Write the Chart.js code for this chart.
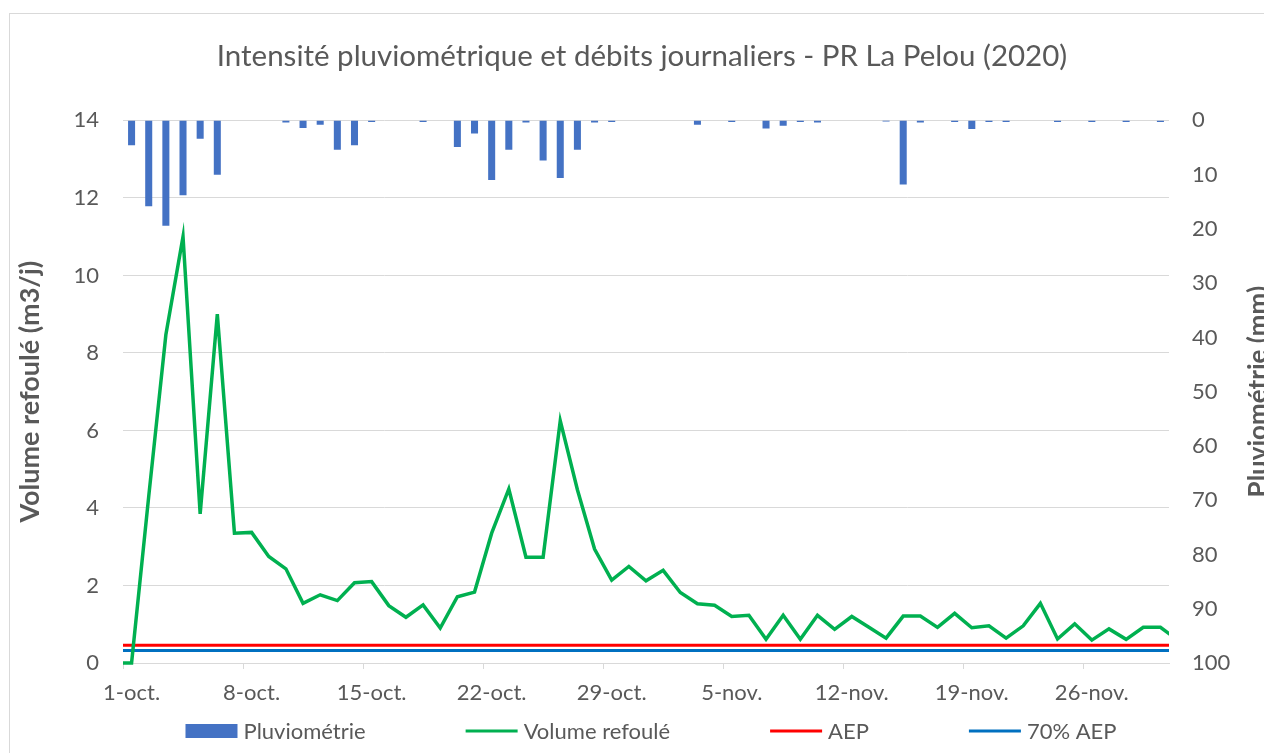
<!DOCTYPE html>
<html>
<head>
<meta charset="utf-8">
<script src="https://cdn.jsdelivr.net/npm/chart.js@4.4.1/dist/chart.umd.min.js"></script>
<style>
  html, body { margin: 0; padding: 0; background: #fff; }
  #wrap { width: 1264px; height: 753px; position: relative; }
</style>
</head>
<body>
<div id="wrap"><canvas id="pelouChart"></canvas></div>
<script>
// Data (30-sep and 1-dec sit just outside the visible axis, as in the original sheet)
const dates = ['30-sep.',
  '1-oct.', '2-oct.', '3-oct.', '4-oct.', '5-oct.', '6-oct.', '7-oct.', '8-oct.', '9-oct.', '10-oct.',
  '11-oct.', '12-oct.', '13-oct.', '14-oct.', '15-oct.', '16-oct.', '17-oct.', '18-oct.', '19-oct.', '20-oct.',
  '21-oct.', '22-oct.', '23-oct.', '24-oct.', '25-oct.', '26-oct.', '27-oct.', '28-oct.', '29-oct.', '30-oct.', '31-oct.',
  '1-nov.', '2-nov.', '3-nov.', '4-nov.', '5-nov.', '6-nov.', '7-nov.', '8-nov.', '9-nov.', '10-nov.',
  '11-nov.', '12-nov.', '13-nov.', '14-nov.', '15-nov.', '16-nov.', '17-nov.', '18-nov.', '19-nov.', '20-nov.',
  '21-nov.', '22-nov.', '23-nov.', '24-nov.', '25-nov.', '26-nov.', '27-nov.', '28-nov.', '29-nov.', '30-nov.',
  '1-dec.'];

const firstDay = '1-oct.';
const lastDay = '30-nov.';
const xTickLabels = ['1-oct.', '8-oct.', '15-oct.', '22-oct.', '29-oct.', '5-nov.', '12-nov.', '19-nov.', '26-nov.'];

// pluviometrie (mm)
const pluie = [null,
  4.6, 15.8, 19.4, 13.8, 3.4, 10.0, 0, 0, 0, 0.4,
  1.4, 0.8, 5.4, 4.6, 0.3, 0, 0, 0.3, 0, 4.9,
  2.4, 11.0, 5.4, 0.4, 7.4, 10.6, 5.4, 0.4, 0.3, 0, 0,
  0, 0, 0.8, 0, 0.3, 0, 1.5, 1.0, 0.3, 0.4,
  0, 0, 0, 0.2, 11.8, 0.4, 0, 0.3, 1.6, 0.3,
  0.3, 0, 0, 0.3, 0, 0.3, 0, 0.3, 0, 0.3,
  null];

// volume refoule (m3/j)
const volume = [0,
  0, 4.3, 8.47, 11.0, 3.85, 9.0, 3.35, 3.37, 2.75, 2.43,
  1.54, 1.76, 1.61, 2.07, 2.10, 1.48, 1.18, 1.50, 0.90, 1.71,
  1.83, 3.35, 4.49, 2.73, 2.73, 6.25, 4.47, 2.94, 2.14, 2.49, 2.12,
  2.39, 1.82, 1.53, 1.49, 1.20, 1.23, 0.61, 1.23, 0.61, 1.23,
  0.87, 1.20, 0.92, 0.64, 1.21, 1.21, 0.92, 1.28, 0.91, 0.96,
  0.64, 0.96, 1.54, 0.62, 1.01, 0.59, 0.88, 0.61, 0.92, 0.92,
  0.6];

const aep = 0.46;
const aep70 = 0.32;

const grey = '#595959';
const gridGrey = '#D9D9D9';
Chart.defaults.font.family = 'Lato, "Open Sans", sans-serif';
Chart.defaults.color = grey;

// white background + light chart frame
const chartFrame = {
  id: 'chartFrame',
  beforeDraw(chart) {
    const ctx = chart.ctx;
    ctx.save();
    ctx.fillStyle = '#fff';
    ctx.fillRect(0, 0, chart.width, chart.height);
    ctx.strokeStyle = gridGrey;
    ctx.lineWidth = 1;
    ctx.strokeRect(9.5, 13.5, chart.width + 20, chart.height + 20);
    ctx.restore();
  }
};

// secondary axis title, written bottom-to-top like the primary one
const rightTitle = {
  id: 'rightTitle',
  afterDraw(chart) {
    const {ctx, chartArea} = chart;
    ctx.save();
    ctx.translate(chart.width - 5, (chartArea.top + chartArea.bottom) / 2);
    ctx.rotate(-Math.PI / 2);
    ctx.font = 'bold 26px Lato';
    ctx.fillStyle = grey;
    ctx.textAlign = 'center';
    ctx.textBaseline = 'middle';
    ctx.fillText('Pluviométrie (mm)', 0, 0);
    ctx.restore();
  }
};

// legend spread along the bottom
const wideLegend = {
  id: 'wideLegend',
  afterDraw(chart) {
    const ctx = chart.ctx;
    const items = chart.data.datasets.map(ds => ({
      text: ds.label,
      bar: ds.type === 'bar',
      color: ds.type === 'bar' ? ds.backgroundColor : ds.borderColor
    }));
    ctx.save();
    ctx.font = '22px Lato';
    const symW = 52, gap = 6, space = 100;
    const widths = items.map(it => symW + gap + ctx.measureText(it.text).width);
    const total = widths.reduce((a, b) => a + b, 0) + space * (items.length - 1);
    let x = 651 - total / 2;
    const y = 731;
    items.forEach((it, i) => {
      if (it.bar) {
        ctx.fillStyle = it.color;
        ctx.fillRect(x, y - 7, symW, 14);
      } else {
        ctx.strokeStyle = it.color;
        ctx.lineWidth = 3;
        ctx.beginPath();
        ctx.moveTo(x, y);
        ctx.lineTo(x + symW, y);
        ctx.stroke();
      }
      ctx.fillStyle = grey;
      ctx.textBaseline = 'middle';
      ctx.fillText(it.text, x + symW + gap, y + 1);
      x += widths[i] + space;
    });
    ctx.restore();
  }
};

const lineClip = {left: 0, right: 0, top: 8, bottom: 8};

const data = {
  labels: dates,
  datasets: [{
    type: 'bar',
    label: 'Pluviométrie',
    data: pluie,
    yAxisID: 'y1',
    backgroundColor: '#4472C4',
    barPercentage: 0.41,
    categoryPercentage: 1,
    order: 4
  }, {
    type: 'line',
    label: 'Volume refoulé',
    data: volume,
    yAxisID: 'y',
    borderColor: '#00B050',
    borderWidth: 3.5,
    pointRadius: 0,
    tension: 0,
    clip: lineClip,
    order: 1
  }, {
    type: 'line',
    label: 'AEP',
    data: [{x: dates[0], y: aep}, {x: dates[dates.length - 1], y: aep}],
    yAxisID: 'y',
    borderColor: '#FF0000',
    borderWidth: 3,
    pointRadius: 0,
    clip: lineClip,
    order: 2
  }, {
    type: 'line',
    label: '70% AEP',
    data: [{x: dates[0], y: aep70}, {x: dates[dates.length - 1], y: aep70}],
    yAxisID: 'y',
    borderColor: '#0070C0',
    borderWidth: 3,
    pointRadius: 0,
    clip: lineClip,
    order: 3
  }]
};

const config = {
  type: 'bar',
  data: data,
  plugins: [chartFrame, rightTitle, wideLegend],
  options: {
    responsive: true,
    maintainAspectRatio: false,
    animation: false,
    layout: { padding: { left: 20, right: 0, top: 0, bottom: 40 } },
    plugins: {
      legend: { display: false },
      tooltip: { enabled: false },
      title: {
        display: true,
        text: 'Intensité pluviométrique et débits journaliers - PR La Pelou (2020)',
        color: grey,
        font: { size: 29.5, weight: 'normal' },
        padding: { top: 39, bottom: 46 }
      }
    },
    scales: {
      x: {
        offset: true,
        // show 1-oct .. 30-nov only; the edge days still feed the lines
        afterDataLimits(scale) {
          scale.min = dates.indexOf(firstDay);
          scale.max = dates.indexOf(lastDay);
        },
        grid: {
          offset: true,
          drawOnChartArea: false,
          drawTicks: true,
          tickLength: 6,
          color: ctx => (ctx.index % 7 === 0 ? gridGrey : 'rgba(0,0,0,0)')
        },
        border: { display: true, color: gridGrey },
        ticks: {
          autoSkip: false,
          maxRotation: 0,
          minRotation: 0,
          padding: 11,
          color: grey,
          font: { size: 22 },
          callback: function (value) {
            const l = this.getLabelForValue(value);
            return xTickLabels.includes(l) ? l : '';
          }
        },
        afterFit(scale) { scale.height = 50; }
      },
      y: {
        position: 'left',
        min: 0,
        max: 14,
        ticks: { stepSize: 2, padding: 24, color: grey, font: { size: 22 } },
        grid: { color: gridGrey, drawTicks: false },
        border: { display: false },
        title: {
          display: true,
          text: 'Volume refoulé (m3/j)',
          color: grey,
          font: { size: 27, weight: 'bold' },
          padding: { top: -6, bottom: 0 }
        },
        afterFit(scale) { scale.width = 103; }
      },
      y1: {
        position: 'right',
        reverse: true,
        min: 0,
        max: 100,
        ticks: { stepSize: 10, padding: 23, color: grey, font: { size: 22 } },
        grid: { display: false, drawTicks: false },
        border: { display: false },
        afterFit(scale) { scale.width = 95; }
      }
    }
  }
};

const pelouChart = new Chart(document.getElementById('pelouChart'), config);
</script>
</body>
</html>
